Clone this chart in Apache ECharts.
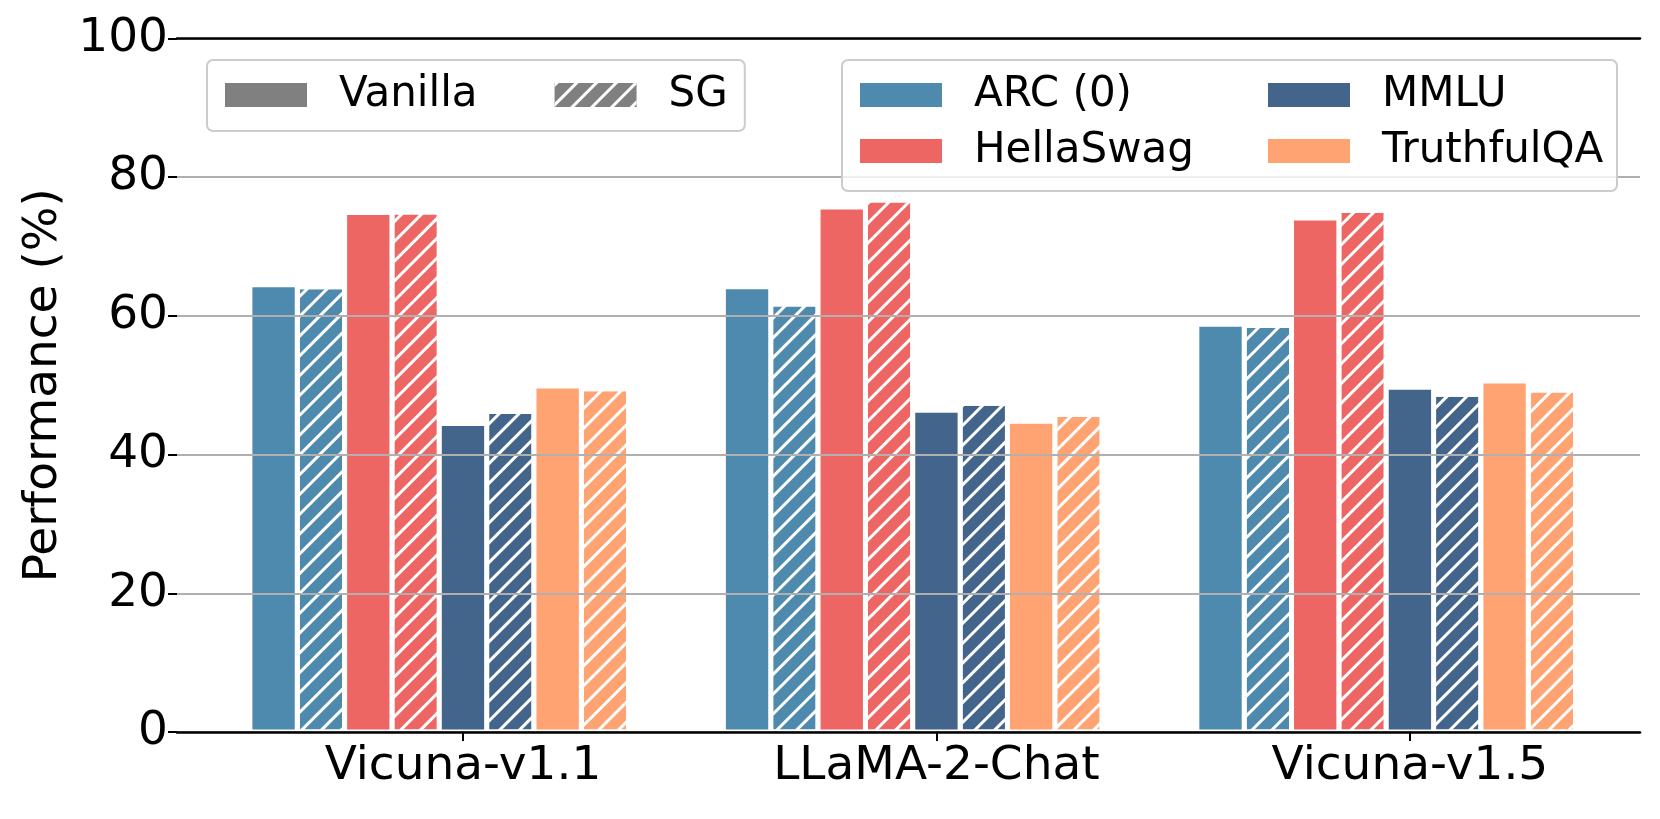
<!DOCTYPE html>
<html><head><meta charset="utf-8">
<script src="https://cdn.jsdelivr.net/npm/echarts@6/dist/echarts.min.js"></script>
<style>html,body{margin:0;padding:0;background:#fff}#chart{width:1660px;height:819px}</style>
</head><body><div id="chart"></div>
<script>
const categories = ['Vicuna-v1.1', 'LLaMA-2-Chat', 'Vicuna-v1.5'];
const benchmarks = ['ARC (0)', 'HellaSwag', 'MMLU', 'TruthfulQA'];
const arcVanilla = [64.5, 64.2, 58.8];
const arcSG = [64.2, 61.7, 58.6];
const hellaVanilla = [74.9, 75.7, 74.1];
const hellaSG = [75.0, 76.7, 75.2];
const mmluVanilla = [44.5, 46.4, 49.7];
const mmluSG = [46.2, 47.4, 48.7];
const tqaVanilla = [49.9, 44.8, 50.6];
const tqaSG = [49.5, 45.8, 49.3];
const yTickValues = [0, 20, 40, 60, 80, 100];
const methods = ['Vanilla', 'SG'];

const colors = ['#4E89AE', '#ED6663', '#43658B', '#FFA372'];
const FONT = 'DejaVu Sans';
const hatch = {
  symbol: 'rect', symbolSize: 1, color: '#ffffff',
  dashArrayX: [1, 0], dashArrayY: [2.5, 10.5], rotation: -Math.PI / 4
};
const pairs = [[arcVanilla, arcSG], [hellaVanilla, hellaSG], [mmluVanilla, mmluSG], [tqaVanilla, tqaSG]];
const catIdx = categories.map((c, i) => i);

const series = [];
benchmarks.forEach((b, k) => {
  [0, 1].forEach(m => {
    series.push({
      type: 'bar',
      name: m === 0 ? b : b + ' SG',
      xAxisIndex: 0, yAxisIndex: 0,
      data: pairs[k][m].map((v, i) => [catIdx[i], v]),
      barGap: '0%', barCategoryGap: '10%',
      itemStyle: Object.assign({ color: colors[k], borderColor: '#ffffff', borderWidth: 2.5 },
        m === 1 ? { decal: hatch } : {}),
      emphasis: { disabled: true }
    });
  });
});
// empty slot so the 8 bars sit left of the tick as in the original
series.push({ type: 'bar', name: 'pad', xAxisIndex: 0, yAxisIndex: 0, data: [], barGap: '0%', barCategoryGap: '10%' });
// legend-only series for the method key
series.push({ type: 'bar', name: methods[0], xAxisIndex: 1, yAxisIndex: 0, data: [], itemStyle: { color: '#808080' } });
series.push({ type: 'bar', name: methods[1], xAxisIndex: 1, yAxisIndex: 0, data: [], itemStyle: { color: '#808080', decal: hatch } });

const legendText = (w) => Object.assign({ fontSize: 42, fontFamily: FONT, color: '#000', lineHeight: 44, padding: [0, 0, 0, 27] }, w ? { width: w } : {});
const boxStyle = { backgroundColor: 'rgba(255,255,255,0.8)', borderColor: '#cccccc', borderWidth: 2, borderRadius: 6 };

const option = {
  animation: false,
  grid: { left: 177, right: 20, top: 38.5, bottom: 87, containLabel: false },
  xAxis: [{
    type: 'value', min: -0.604, max: 2.486, z: 4,
    axisLine: { show: true, onZero: false, lineStyle: { color: '#000', width: 2.5 } },
    axisTick: { show: true, customValues: catIdx, length: 9, lineStyle: { color: '#000', width: 2 } },
    axisLabel: { show: true, customValues: catIdx, formatter: v => categories[Math.round(v)], fontSize: 47, fontFamily: FONT, color: '#000', margin: 11 },
    splitLine: { show: false }
  }, {
    type: 'value', position: 'top', min: 0, max: 1, z: 4,
    axisLine: { show: true, onZero: false, lineStyle: { color: '#000', width: 2.5 } },
    axisTick: { show: false }, axisLabel: { show: false }, splitLine: { show: false }
  }],
  yAxis: [{
    type: 'value', min: 0, max: 100, interval: 20, z: 3,
    name: 'Performance (%)', nameLocation: 'middle', nameGap: 107,
    nameTextStyle: { fontSize: 47, fontFamily: FONT, color: '#000' },
    axisLine: { show: false, onZero: false },
    axisTick: { show: true, length: 9, lineStyle: { color: '#000', width: 2 } },
    axisLabel: { fontSize: 47, fontFamily: FONT, color: '#000', margin: 9, formatter: v => yTickValues.includes(v) ? String(v) : '' },
    splitLine: { show: true, lineStyle: { color: '#b0b0b0', width: 2 } }
  }],
  legend: [
    Object.assign({
      data: methods, left: 207, top: 60, orient: 'horizontal', z: 5,
      padding: [13, 17, 14, 18], itemGap: 77, itemWidth: 82, itemHeight: 24, icon: 'rect',
      selectedMode: false, itemStyle: { borderWidth: 0 }, textStyle: legendText()
    }, boxStyle),
    Object.assign({
      data: [benchmarks[0], benchmarks[2]], left: 842, top: 60, orient: 'horizontal', z: 5,
      padding: [13, 13, 74, 18], itemGap: 72, itemWidth: 82, itemHeight: 24, icon: 'rect',
      selectedMode: false, itemStyle: { borderWidth: 0 }, textStyle: legendText(222)
    }, boxStyle),
    {
      data: [benchmarks[1], benchmarks[3]], left: 842, top: 129, orient: 'horizontal', z: 6,
      padding: [0, 13, 0, 18], itemGap: 72, itemWidth: 82, itemHeight: 24, icon: 'rect',
      selectedMode: false, itemStyle: { borderWidth: 0 }, textStyle: legendText(222)
    }
  ],
  series: series
};
const chart = echarts.init(document.getElementById('chart'), null, { renderer: 'canvas' });
chart.setOption(option);
</script>
</body></html>
